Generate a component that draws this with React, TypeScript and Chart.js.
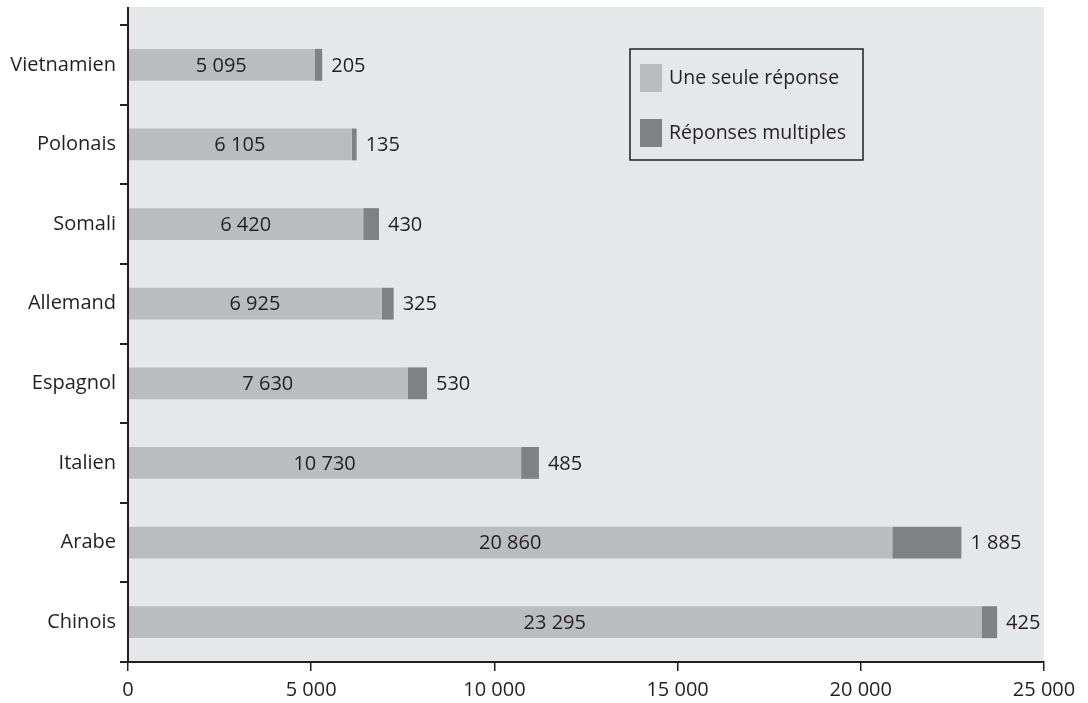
import React, { useEffect, useRef } from "react";
import { Chart, registerables } from "chart.js";

Chart.register(...registerables);

const categories = ["Vietnamien", "Polonais", "Somali", "Allemand", "Espagnol", "Italien", "Arabe", "Chinois"];
const singleValues = [5095, 6105, 6420, 6925, 7630, 10730, 20860, 23295];
const multipleValues = [205, 135, 430, 325, 530, 485, 1885, 425];
const seriesNames = ["Une seule réponse", "Réponses multiples"];
const xTicks = [0, 5000, 10000, 15000, 20000, 25000];

const BG = "#e6e7e8";
const LIGHT = "#bbbcbf";
const DARK = "#808184";
const INK = "#231f20";
const FONT = "'Open Sans', sans-serif";

const fmt = (n: number) => String(n).replace(/\B(?=(\d{3})+(?!\d))/g, " ");

const decorPlugin = {
  id: "decor",
  beforeDraw(chart: any) {
    const { ctx, chartArea } = chart;
    ctx.save();
    ctx.fillStyle = BG;
    ctx.fillRect(chartArea.left, chartArea.top - 18, chartArea.right - chartArea.left, chartArea.bottom - chartArea.top + 18);
    ctx.restore();
  },
  afterDraw(chart: any) {
    const { ctx, chartArea } = chart;
    ctx.save();
    ctx.strokeStyle = INK;
    ctx.lineWidth = 2;
    ctx.beginPath();
    ctx.moveTo(chartArea.left, chartArea.top - 18);
    ctx.lineTo(chartArea.left, chartArea.bottom);
    ctx.stroke();

    ctx.font = `20px ${FONT}`;
    ctx.fillStyle = INK;
    ctx.textBaseline = "middle";
    const m0 = chart.getDatasetMeta(0);
    const m1 = chart.getDatasetMeta(1);
    m0.data.forEach((bar: any, i: number) => {
      ctx.textAlign = "center";
      ctx.fillText(fmt(singleValues[i]), (chartArea.left + bar.x) / 2, bar.y + 1);
    });
    m1.data.forEach((bar: any, i: number) => {
      ctx.textAlign = "left";
      ctx.fillText(fmt(multipleValues[i]), bar.x + 9, bar.y + 1);
    });

    const lx = 630, ly = 49, lw = 233, lh = 111;
    ctx.fillStyle = BG;
    ctx.fillRect(lx, ly, lw, lh);
    ctx.strokeStyle = INK;
    ctx.lineWidth = 1.5;
    ctx.strokeRect(lx, ly, lw, lh);
    const colors = [LIGHT, DARK];
    const rows = [64, 119];
    rows.forEach((ry, k) => {
      ctx.fillStyle = colors[k];
      ctx.fillRect(640, ry, 22, 28);
      ctx.fillStyle = INK;
      ctx.textAlign = "left";
      ctx.font = `19.5px ${FONT}`;
      ctx.fillText(seriesNames[k], 669, ry + 14);
    });
    ctx.restore();
  },
};

export default function App() {
  const ref = useRef<HTMLCanvasElement>(null);
  useEffect(() => {
    const canvas = ref.current!;
    const chart = new Chart(canvas, {
      type: "bar",
      data: {
        labels: categories,
        datasets: [
          { label: seriesNames[0], data: singleValues, backgroundColor: LIGHT, borderWidth: 0, categoryPercentage: 1, barPercentage: 0.4 },
          { label: seriesNames[1], data: multipleValues, backgroundColor: DARK, borderWidth: 0, categoryPercentage: 1, barPercentage: 0.4 },
        ],
      },
      options: {
        indexAxis: "y",
        animation: false,
        responsive: false,
        layout: { padding: { top: 25, right: 44, left: 0, bottom: 0 } },
        plugins: { legend: { display: false }, tooltip: { enabled: false } },
        scales: {
          x: {
            stacked: true,
            min: 0,
            max: 25000,
            afterBuildTicks: (scale: any) => {
              scale.ticks = xTicks.map((v) => ({ value: v }));
            },
            ticks: {
              color: INK,
              font: { family: FONT, size: 20 },
              padding: 7,
              callback: (v: any) => fmt(Number(v)),
              maxRotation: 0,
            },
            grid: { drawOnChartArea: false, tickLength: 9, color: INK, lineWidth: 1.5 },
            border: { display: true, color: INK, width: 2 },
            afterFit: (scale: any) => {
              scale.height = 41;
            },
          },
          y: {
            stacked: true,
            ticks: {
              color: INK,
              font: { family: FONT, size: 20 },
              padding: 4,
            },
            grid: { drawOnChartArea: false, tickLength: 8, color: INK, lineWidth: 2, offset: true },
            border: { display: true, color: INK, width: 2 },
            afterFit: (scale: any) => {
              scale.width = 128;
            },
          },
        },
      },
      plugins: [decorPlugin],
    });
    return () => chart.destroy();
  }, []);
  return (
    <div style={{ position: "fixed", left: 0, top: 0, width: 1088, height: 703, background: "#fff" }}>
      <canvas ref={ref} width={1088} height={703} />
    </div>
  );
}
